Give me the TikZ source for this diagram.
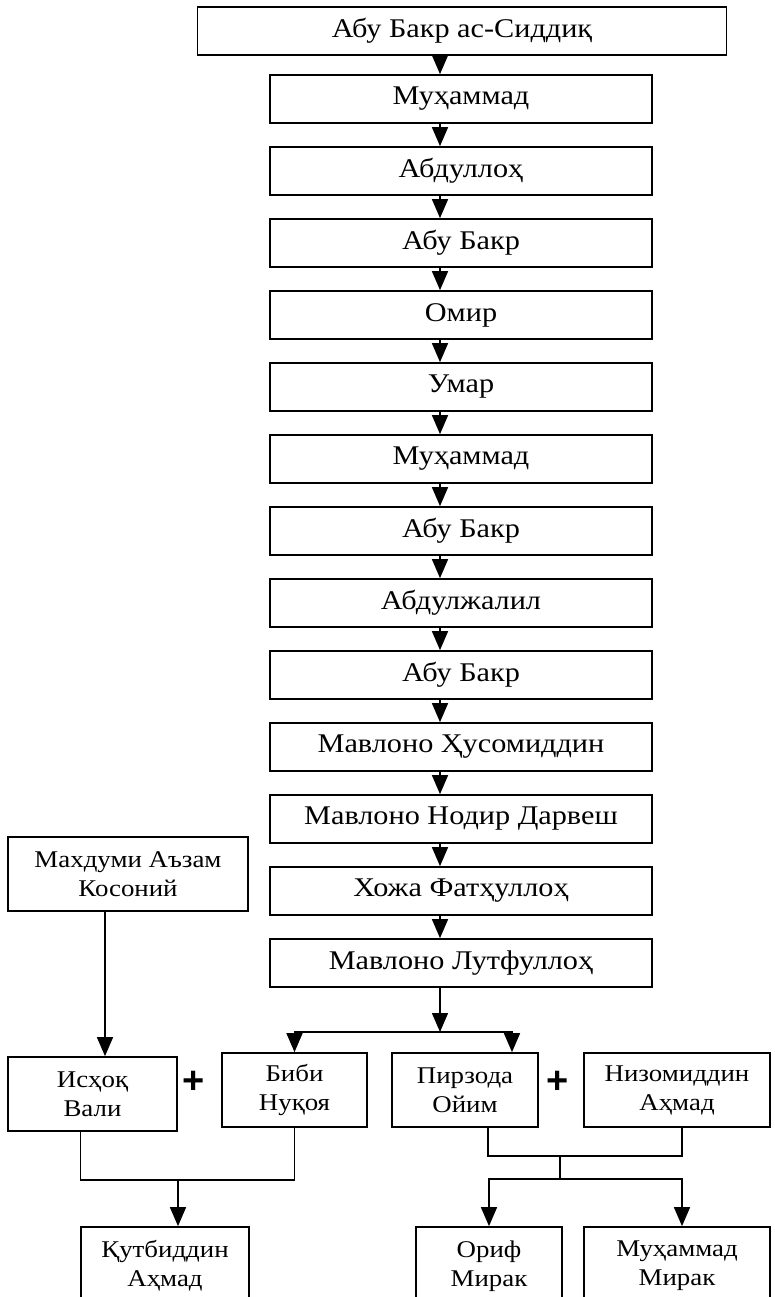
\documentclass[tikz,border=0pt]{standalone}
\usepackage{fontspec}
\setmainfont{Liberation Serif}[FakeStretch=1.12]
\newfontfamily\plusfont{Liberation Sans}
\usetikzlibrary{arrows.meta}

\begin{document}
\begin{tikzpicture}[x=1pt,y=-1pt,
    box/.style={draw,line width=1.7pt,minimum height=48pt,inner sep=0pt,font=\fontsize{27}{29}\selectfont},
    main/.style={box,minimum width=382pt},
    pair/.style={box,minimum height=74pt,align=center,font=\fontsize{24}{29}\selectfont},
    link/.style={line width=1.5pt},
    arr/.style={link,-{Triangle[width=16pt,length=19pt]}},
    plus/.style={font=\fontsize{38}{38}\plusfont\bfseries},
]
    \path[use as bounding box,clip] (0,0) rectangle (775,1297);

    % chain
    \node[box,minimum width=529pt] at (462,31) (m0) {Абу Бакр ас-Сиддиқ};
    \node[main] at (461,99) (m1) {Муҳаммад};
    \node[main] at (461,171) (m2) {Абдуллоҳ};
    \node[main] at (461,243) (m3) {Абу Бакр};
    \node[main] at (461,315) (m4) {Омир};
    \node[main] at (461,387) (m5) {Умар};
    \node[main] at (461,459) (m6) {Муҳаммад};
    \node[main] at (461,531) (m7) {Абу Бакр};
    \node[main] at (461,603) (m8) {Абдулжалил};
    \node[main] at (461,675) (m9) {Абу Бакр};
    \node[main] at (461,747) (m10) {Мавлоно Ҳусомиддин};
    \node[main] at (461,819) (m11) {Мавлоно Нодир Дарвеш};
    \node[main] at (461,891) (m12) {Хожа Фатҳуллоҳ};
    \node[main] at (461,963) (m13) {Мавлоно Лутфуллоҳ};
    \coordinate (spine) at (440,0);

    \draw[arr] (m0.south -| spine) -- (m1.north -| spine);
    \draw[arr] (m1.south -| spine) -- (m2.north -| spine);
    \draw[arr] (m2.south -| spine) -- (m3.north -| spine);
    \draw[arr] (m3.south -| spine) -- (m4.north -| spine);
    \draw[arr] (m4.south -| spine) -- (m5.north -| spine);
    \draw[arr] (m5.south -| spine) -- (m6.north -| spine);
    \draw[arr] (m6.south -| spine) -- (m7.north -| spine);
    \draw[arr] (m7.south -| spine) -- (m8.north -| spine);
    \draw[arr] (m8.south -| spine) -- (m9.north -| spine);
    \draw[arr] (m9.south -| spine) -- (m10.north -| spine);
    \draw[arr] (m10.south -| spine) -- (m11.north -| spine);
    \draw[arr] (m11.south -| spine) -- (m12.north -| spine);
    \draw[arr] (m12.south -| spine) -- (m13.north -| spine);

    % couples
    \node[pair,minimum width=240pt] at (128,874) (mahdum) {Махдуми Аъзам\\Косоний};
    \node[pair,minimum width=169pt] at (92.5,1094) (isxoq) {Исҳоқ\\Вали};
    \node[plus] at (194,1082) (plusl) {+};
    \node[pair,minimum width=145pt] at (294.5,1090) (bibi) {Биби\\Нуқоя};
    \node[pair,minimum width=146pt] at (465,1090) (pirzoda) {Пирзода\\Ойим};
    \node[plus] at (558,1082) (plusr) {+};
    \node[pair,minimum width=186pt] at (677,1090) (nizom) {Низомиддин\\Аҳмад};

    \node[pair,minimum width=168pt,minimum height=78pt] at (165,1266) (qutb) {Қутбиддин\\Аҳмад};
    \node[pair,minimum width=146pt,minimum height=78pt] at (489,1266) (orif) {Ориф\\Мирак};
    \node[pair,minimum width=186pt,minimum height=78pt] at (677,1266) (mmirak) {Муҳаммад\\Мирак};

    \coordinate (split) at (440,1032);
    \coordinate (jl) at (178,1180);
    \coordinate (jr) at (560,1156);
    \coordinate (kr) at (560,1179);

    \draw[arr] (m13.south -| spine) -- (split);
    \draw[arr] (split) -| (bibi.north);
    \draw[arr] (split) -| ([xshift=47pt]pirzoda.north);
    \draw[arr] ([xshift=-23pt]mahdum.south) -- ([xshift=-23pt]mahdum.south |- isxoq.north);

    \draw[link] ([xshift=-12pt]isxoq.south) |- (jl) -| (bibi.south);
    \draw[arr] (jl) -- (jl |- qutb.north);

    \draw[link] ([xshift=23pt]pirzoda.south) |- (jr) -| ([xshift=5pt]nizom.south);
    \draw[link] (jr) -- (kr);
    \draw[arr] (kr) -| (orif.north);
    \draw[arr] (kr) -| ([xshift=5pt]mmirak.north);
\end{tikzpicture}
\end{document}
